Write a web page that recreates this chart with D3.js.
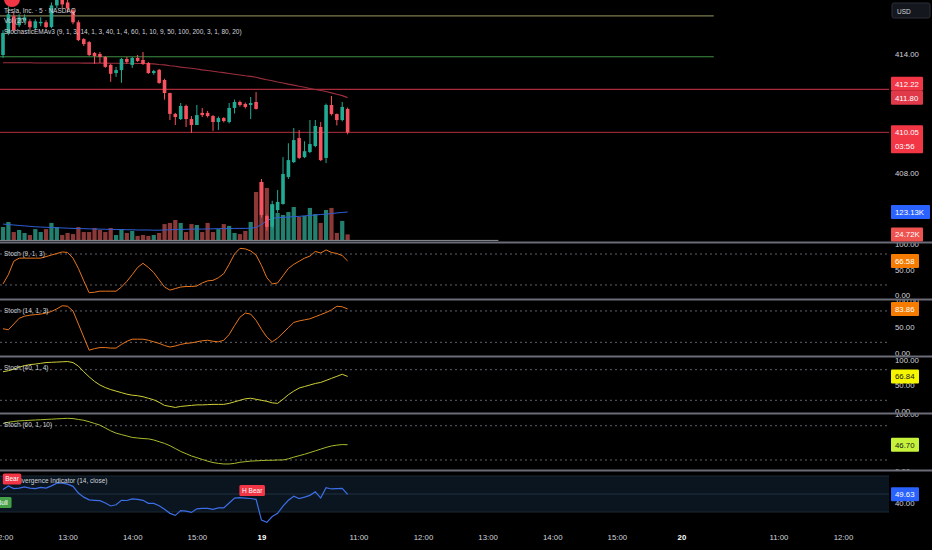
<!DOCTYPE html>
<html><head><meta charset="utf-8">
<script src="https://cdn.jsdelivr.net/npm/d3@7/dist/d3.min.js"></script>
<style>
html,body{margin:0;padding:0;background:#000;overflow:hidden}
svg{display:block}
text{font-family:"Liberation Sans",Arial,sans-serif}
</style></head><body>
<svg id="chart" width="932" height="550"></svg>
<script>
// ---------------- DATA ----------------
const opens  = [413.95,415.06,415.90,415.45,415.70,415.65,415.30,415.55,415.60,415.36,416.45,416.90,416.60,416.20,415.60,414.75,414.60,414.05,414.00,413.85,413.45,413.04,413.19,413.75,413.45,413.80,413.70,413.55,413.04,413.20,412.69,412.03,410.98,410.72,411.38,410.72,410.42,411.03,411.03,410.87,410.57,410.77,410.57,411.28,411.58,411.48,411.43,411.58,407.55,405.83,405.30,406.13,406.44,407.80,408.55,409.76,408.80,409.06,409.36,410.32,408.76,411.43,410.97,410.67,411.23];
const highs  = [415.20,416.40,416.10,416.00,416.00,415.75,415.75,415.85,415.70,416.60,417.10,417.00,416.75,416.30,415.70,414.80,414.65,414.10,414.10,413.90,413.50,413.35,413.80,413.85,413.85,413.95,414.10,413.60,413.20,413.25,412.75,412.05,411.03,411.53,411.45,410.87,411.43,411.28,411.13,410.92,410.85,410.82,411.53,411.70,411.65,411.55,411.83,412.08,407.70,405.90,406.60,407.14,408.80,409.50,410.27,410.17,409.60,410.67,410.67,410.57,411.50,411.88,411.00,411.58,411.30];
const lows   = [413.80,414.95,415.10,415.35,415.55,415.25,415.20,415.40,415.30,415.30,416.30,416.30,416.10,415.50,414.65,414.40,413.90,413.50,413.55,413.30,412.60,412.85,412.55,413.50,413.30,413.60,413.45,413.00,412.95,412.50,411.70,410.67,410.42,410.67,410.32,410.02,410.42,410.82,410.80,410.12,410.17,410.55,410.50,411.00,411.35,411.25,410.72,411.20,405.75,405.10,405.20,406.00,406.40,407.70,408.50,408.70,408.75,409.00,409.30,408.60,408.50,410.90,410.40,410.60,409.95];
const closes = [415.06,416.00,415.20,415.85,415.85,415.35,415.65,415.62,415.36,416.45,416.95,416.50,416.30,415.60,414.70,414.50,413.95,413.90,413.85,413.35,413.00,413.19,413.75,413.60,413.80,413.65,413.50,413.04,413.14,412.54,412.03,410.98,410.82,411.38,410.72,410.42,410.92,410.92,410.87,410.57,410.77,410.62,411.28,411.58,411.43,411.33,411.53,411.23,405.88,405.28,406.40,406.54,407.95,408.65,409.66,408.76,409.10,409.46,410.37,408.65,411.43,410.97,410.67,411.33,410.05];
// volume in thousands
const volumes = [57,79,35,44,31,22,48,35,48,75,57,22,31,26,57,35,35,53,44,35,53,22,48,31,40,18,22,18,22,31,70,75,88,75,35,70,66,35,75,35,48,70,62,31,26,40,79,211,255,229,158,119,110,123,145,101,106,141,114,75,132,141,31,84,24.72];
const volMA = [70,68,66,64,62,60,58,57,56,55,54,53,52,51,50,50,49,48,48,47,47,46,46,45,45,44,44,44,43,43,44,45,46,47,47,48,48,48,49,49,50,50,50,51,51,51,52,55,68,85,95,98,100,101,103,104,106,108,110,112,114,116,119,121,123.13];
const ema = [413.56,413.56,413.56,413.56,413.56,413.56,413.55,413.55,413.55,413.55,413.55,413.55,413.55,413.55,413.55,413.54,413.54,413.54,413.54,413.54,413.53,413.53,413.53,413.53,413.53,413.52,413.52,413.51,413.50,413.47,413.45,413.41,413.38,413.34,413.31,413.28,413.24,413.20,413.17,413.13,413.09,413.06,413.02,412.98,412.94,412.90,412.87,412.83,412.76,412.70,412.65,412.59,412.54,412.48,412.43,412.37,412.32,412.26,412.21,412.16,412.11,412.04,411.97,411.90,411.80];
const stochA = [22,40,66,72,72,72,72,72,75,78,81,84,83,72,52,28,5,6,8,8,8,8,16,27,40,54,62,54,44,30,16,10,13,16,17,17,18,24,28,29,34,42,60,80,91,90,86,78,58,34,22,24,38,52,60,66,72,76,85,82,88,83,81,77,66.58];
const stochB = [46,44,55,66,70,72,73,74,76,79,84,90,89,80,55,30,5,8,10,10,9,9,16,22,26,26,26,24,21,18,14,11,13,16,18,19,21,23,24,22,21,24,35,52,68,76,74,62,45,30,21,28,38,48,58,61,63,65,69,73,77,82,89,88,83.86];
const stochC = [76,78,81,85,88,90,91,92.5,94,94.5,95,95.5,96,94,87,76,66,57,50,45,41,38,35,32,30,29,27,24,21,16,10,8,6,8,9,10,11,11,11.5,12,12,12,14,17,20,23,24,22,20,18,15,14,22,31,38,44,47,50,53,55,59,63,67,71,66.84];
const stochD = [84,86,87.5,88.5,89,89.5,90,90.5,91,91.5,92,92.5,93,92.5,91,89.5,87,84,81,76,71,67,64.5,62,59.5,58.5,57.5,57,55,52,49,45,40,35,31,27,24,21,18,15.5,14,13,13,14,16,17,18,18.5,19,19.5,19.5,20,20,22,25,27.5,30,33,36,39,42,44.5,46,47,46.7];
const rsi = [55,59,56,56.5,58,56.5,56,57.4,56.5,59,62,62,61,58.5,51,46.5,43.5,43,42.6,40,36.7,38,43,42.8,44.5,44,43,39.6,39.6,37,33,28.5,26.3,31.5,31,29.5,33.5,34,34,33,34.5,34.5,40,45.5,46,45.5,45,44,21,18.5,25,28.5,36.5,43,47.5,45,46.5,48.5,52.5,45.5,57,55.6,56,56.3,49.63];
const stochTitles = ["Stoch (9, 1, 3)","Stoch (14, 1, 3)","Stoch (40, 1, 4)","Stoch (60, 1, 10)"];
const levelPrices = [415.92, 413.86, 412.22, 404.6];
const levelEndIdx = [132, 132, null, 92];
const timeTickIdx = [0,12,24,36,48,66,78,90,102,114,126,144,156];
const timeTickLbl = ["12:00","13:00","14:00","15:00","19","11:00","12:00","13:00","14:00","15:00","20","11:00","12:00"];
const priceTicks = [406,408,410,412,414,416];
const stochTicks = [0,50,100];
const divLabels = ["Bear","Bull","H Bear"];
const divIdx = [1.4,-0.4,46];
const divLevel = [66.7,40.5,53.9];
const legendLines = ["Tesla, Inc. \u00b7 5 \u00b7 NASDAQ","Vol (20)","StochasticEMAv3 (9, 1, 3, 14, 1, 3, 40, 1, 4, 60, 1, 10, 9, 50, 100, 200, 3, 1, 80, 20)"];
const countdown = "03:56";

// ---------------- DRAW ----------------
const svg = d3.select('#chart');
const defs = svg.append('defs');
let clipN = 0;
function clip(x,y,w,h){const id='cl'+(clipN++);defs.append('clipPath').attr('id',id).append('rect').attr('x',x).attr('y',y).attr('width',w).attr('height',h);return `url(#${id})`;}
svg.append('rect').attr('width',932).attr('height',550).attr('fill','#000');
const PR = 889, AX = 895;
const TXT = '#d1d4dc';
const LF = 6.5, AF = 7.8;
const UP = '#22ab94', DN = '#f7525f';
const x = d3.scaleLinear().domain([0,156]).range([3,843]);
const idx = d3.range(closes.length);
const isUp = i => closes[i] >= opens[i];
const fmt2 = d3.format('.2f');

// ---- main pane ----
const yP = d3.scaleLinear().domain([408,414]).range([173,54]);
const yV = d3.scaleLinear().domain([0,1000]).range([240,12.5]);
const gm = svg.append('g').attr('clip-path', clip(0,0,PR,242));
gm.selectAll('rect.v').data(idx).join('rect')
  .attr('x',i=>x(i)-2.1).attr('width',4.2)
  .attr('y',i=>yV(volumes[i])).attr('height',i=>yV(0)-yV(volumes[i]))
  .attr('fill',i=>isUp(i)?'#23806f':'#8b3838');
gm.append('path').datum(volMA)
  .attr('d',d3.line().x((d,i)=>x(i)).y(d=>yV(d)))
  .attr('fill','none').attr('stroke','#2f5fd8').attr('stroke-width',1);
const levelCols = ['#9c9c64','#3f8f45','#d2354a','#8a8d96'];
levelPrices.forEach((p,k)=>{
  gm.append('line').attr('x1',0).attr('x2',levelEndIdx[k]==null?PR:x(levelEndIdx[k]))
    .attr('y1',yP(p)).attr('y2',yP(p)).attr('stroke',levelCols[k]).attr('stroke-width',1);
});
const lastClose = closes[closes.length-1];
gm.append('line').attr('x1',0).attr('x2',PR).attr('y1',yP(lastClose)).attr('y2',yP(lastClose))
  .attr('stroke','#b2303f').attr('stroke-width',1);
gm.append('path').datum(ema)
  .attr('d',d3.line().x((d,i)=>x(i)).y(d=>yP(d)))
  .attr('fill','none').attr('stroke','#9c2f3e').attr('stroke-width',1.1);
gm.selectAll('line.w').data(idx).join('line')
  .attr('x1',i=>x(i)).attr('x2',i=>x(i)).attr('y1',i=>yP(highs[i])).attr('y2',i=>yP(lows[i]))
  .attr('stroke',i=>isUp(i)?UP:DN).attr('stroke-width',1);
gm.selectAll('rect.b').data(idx).join('rect')
  .attr('x',i=>x(i)-1.8).attr('width',3.6)
  .attr('y',i=>yP(Math.max(opens[i],closes[i])))
  .attr('height',i=>Math.max(1,Math.abs(yP(opens[i])-yP(closes[i]))))
  .attr('fill',i=>isUp(i)?UP:DN);
gm.append('circle').attr('cx',12).attr('cy',-1).attr('r',8).attr('fill','#f23645');
legendLines.forEach((t,k)=>{
  svg.append('text').attr('x',4).attr('y',[10,20.5,31][k]).attr('dominant-baseline','central')
    .attr('font-size',LF).attr('fill',TXT).text(t);
});

// ---- stochastic panes ----
const stochSeries = [stochA,stochB,stochC,stochD];
const paneGeo = [{t:243,b:299,hi:243.7,lo:295.3},{t:300,b:356,hi:300.5,lo:352.8},{t:357,b:413,hi:359.5,lo:410.5},{t:414,b:470,hi:414.3,lo:471.4}];
const stLine = ['#e8761f','#e8761f','#cfcf38','#a9bb2c'];
const stBadge = ['#f57c00','#f57c00','#f5f500','#c6f23c'];
const stBadgeTxt = ['#fff','#fff','#131722','#131722'];
const stochScales = [];
stochSeries.forEach((s,k)=>{
  const g = paneGeo[k];
  const ys = d3.scaleLinear().domain([0,100]).range([g.lo,g.hi]);
  stochScales.push(ys);
  const gp = svg.append('g').attr('clip-path',clip(0,g.t,PR,g.b-g.t));
  [80,20].forEach(v=>gp.append('line').attr('x1',0).attr('x2',PR).attr('y1',ys(v)).attr('y2',ys(v))
     .attr('stroke','#787b86').attr('stroke-width',0.8).attr('stroke-dasharray','2,3'));
  gp.append('path').datum(s).attr('d',d3.line().x((d,i)=>x(i)).y(d=>ys(d)))
    .attr('fill','none').attr('stroke',stLine[k]).attr('stroke-width',1);
  svg.append('text').attr('x',4).attr('y',g.t+10.5).attr('dominant-baseline','central')
    .attr('font-size',LF).attr('fill',TXT).text(stochTitles[k]);
  const ga = svg.append('g').attr('clip-path',clip(PR,g.t,932-PR,g.b-g.t))
    .append('g').attr('transform',`translate(${AX},0)`)
    .call(d3.axisRight(ys).tickValues(stochTicks).tickFormat(fmt2).tickSize(0).tickPadding(0));
  ga.select('.domain').remove();
  ga.attr('font-size',AF).attr('font-family','"Liberation Sans",Arial,sans-serif').attr('color',TXT);
});

// ---- RSI pane ----
const yR = d3.scaleLinear().domain([30,70]).range([512,476]);
const gr = svg.append('g').attr('clip-path',clip(0,471,PR,56));
gr.append('rect').attr('x',0).attr('width',PR).attr('y',yR(70)).attr('height',yR(30)-yR(70)).attr('fill','#0a151f');
[[70,'#1b2835'],[50,'#213244'],[30,'#1b2835']].forEach(([v,c])=>gr.append('line').attr('x1',0).attr('x2',PR)
   .attr('y1',yR(v)).attr('y2',yR(v)).attr('stroke',c).attr('stroke-width',1));
gr.append('path').datum(rsi).attr('d',d3.line().x((d,i)=>x(i)).y(d=>yR(d)))
  .attr('fill','none').attr('stroke','#3d6ee6').attr('stroke-width',1.2);
svg.append('text').attr('x',3).attr('y',480).attr('dominant-baseline','central')
  .attr('font-size',LF).attr('fill',TXT).text('RSI Divergence Indicator (14, close)');
const gR2 = svg.append('g').attr('clip-path',clip(0,471,PR,56));
divLabels.forEach((lb,k)=>{
  const cx = x(divIdx[k]) + 1.5, cy = yR(divLevel[k]);
  const w = lb.length*3.6+4;
  const col = lb.indexOf('Bull')>=0 ? '#43a047' : '#f23645';
  gR2.append('rect').attr('x',cx-w/2).attr('y',cy-5.5).attr('width',w).attr('height',11).attr('rx',1.5).attr('fill',col);
  gR2.append('text').attr('x',cx).attr('y',cy).attr('text-anchor','middle').attr('dominant-baseline','central')
    .attr('font-size',LF).attr('fill','#fff').text(lb);
});
const gra = svg.append('g').attr('clip-path',clip(PR,471,932-PR,56))
  .append('g').attr('transform',`translate(${AX},0)`)
  .call(d3.axisRight(yR).tickValues([40]).tickFormat(fmt2).tickSize(0).tickPadding(0));
gra.select('.domain').remove();
gra.attr('font-size',AF).attr('font-family','"Liberation Sans",Arial,sans-serif').attr('color',TXT);

// ---- time axis ----
const gx = svg.append('g').attr('transform','translate(0,534)')
  .call(d3.axisBottom(x).tickValues(timeTickIdx).tickFormat((d,k)=>timeTickLbl[k]).tickSize(0).tickPadding(0));
gx.select('.domain').remove();
gx.attr('font-size',AF).attr('font-family','"Liberation Sans",Arial,sans-serif').attr('color',TXT);
gx.selectAll('text').attr('font-weight',(d,k)=>timeTickLbl[k].length<=2?'bold':'normal')
  .attr('fill',(d,k)=>timeTickLbl[k].length<=2?'#ffffff':TXT);

// ---- separators ----
[242.5,299.5,356.5,413.5,470.5].forEach(y=>svg.append('line').attr('x1',0).attr('x2',932)
  .attr('y1',y).attr('y2',y).attr('stroke','#6a6d78').attr('stroke-width',2));

// ---- price axis ----
const gpa = svg.append('g').attr('clip-path',clip(PR,0,932-PR,242))
  .append('g').attr('transform',`translate(${AX},0)`)
  .call(d3.axisRight(yP).tickValues(priceTicks).tickFormat(fmt2).tickSize(0).tickPadding(0));
gpa.select('.domain').remove();
gpa.attr('font-size',AF).attr('font-family','"Liberation Sans",Arial,sans-serif').attr('color',TXT);

function badge(yc, lines, fill, tc, w){
  const h = 14*lines.length;
  svg.append('rect').attr('x',891).attr('y',yc-7).attr('width',w).attr('height',h).attr('fill',fill).attr('rx',1);
  lines.forEach((t,k)=>svg.append('text').attr('x',AX).attr('y',yc+14*k+0.5).attr('dominant-baseline','central')
     .attr('font-size',AF).attr('fill',tc).text(t));
}
const emaLast = ema[ema.length-1];
const emaY = yP(emaLast);
badge(emaY, [fmt2(emaLast)], '#e03a4a', '#fff', 32);
badge(Math.min(yP(levelPrices[2]), emaY-14), [fmt2(levelPrices[2])], '#f23645', '#fff', 32);
badge(yP(lastClose), [fmt2(lastClose), countdown], '#f23645', '#fff', 32);
const maLast = volMA[volMA.length-1], vLast = volumes[volumes.length-1];
badge(yV(maLast), [fmt2(maLast)+' K'.trim()], '#2962ff', '#fff', 39);
badge(yV(vLast), [fmt2(vLast)+'K'], '#ef5350', '#fff', 32);
stochSeries.forEach((s,k)=>{
  const v = s[s.length-1];
  badge(stochScales[k](v), [fmt2(v)], stBadge[k], stBadgeTxt[k], 28);
});
badge(yR(rsi[rsi.length-1]), [fmt2(rsi[rsi.length-1])], '#2962ff', '#fff', 28);

// USD box
svg.append('rect').attr('x',892).attr('y',3).attr('width',38).attr('height',15).attr('rx',2)
  .attr('fill','#15171e').attr('stroke','#2a2e39').attr('stroke-width',1);
svg.append('text').attr('x',897).attr('y',11).attr('dominant-baseline','central')
  .attr('font-size',6.5).attr('fill',TXT).text('USD');
</script>
</body></html>
